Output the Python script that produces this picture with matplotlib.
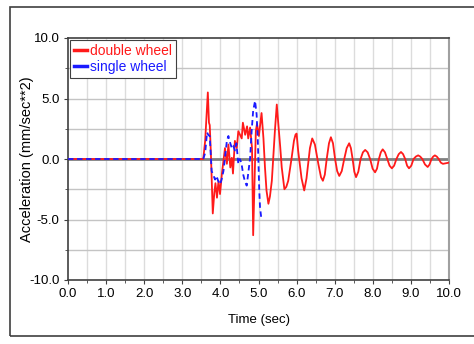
import numpy as np
import matplotlib.pyplot as plt
from matplotlib.patches import Rectangle

# double wheel (red) - time (sec) and acceleration (mm/sec**2)
t_double = [0.0, 3.55, 3.60, 3.67, 3.70, 3.72, 3.75, 3.78, 3.80, 3.84, 3.87, 3.91,
            3.95, 3.99, 4.04, 4.12, 4.17, 4.21, 4.26, 4.30, 4.33, 4.38, 4.43,
            4.47, 4.56, 4.59, 4.65, 4.70, 4.73, 4.78, 4.83, 4.86, 4.93, 4.96,
            5.01, 5.08, 5.13, 5.17, 5.21, 5.26, 5.30, 5.35, 5.43, 5.48, 5.52,
            5.57, 5.61, 5.68, 5.73, 5.78, 5.87, 5.93, 5.97, 6.00, 6.04, 6.13,
            6.20, 6.26, 6.35, 6.41, 6.48, 6.57, 6.64, 6.69, 6.74, 6.79, 6.85,
            6.90, 6.955, 7.01, 7.065, 7.12, 7.185, 7.25, 7.315, 7.38, 7.425,
            7.47, 7.515, 7.56, 7.62, 7.68, 7.74, 7.80, 7.865, 7.93, 7.995,
            8.06, 8.11, 8.16, 8.21, 8.26, 8.32, 8.38, 8.44, 8.50, 8.56, 8.62,
            8.68, 8.74, 8.795, 8.85, 8.90, 8.95, 9.01, 9.07, 9.13, 9.19, 9.245,
            9.30, 9.37, 9.44, 9.49, 9.54, 9.585, 9.63, 9.68, 9.73, 9.785, 9.84,
            9.92, 10.0]
a_double = [0.0, 0.0, 1.5, 5.5, 3.0, 2.8, 0.5, -2.5, -4.5, -2.8, -2.0, -3.2,
            -1.8, -2.9, -1.2, 0.9, -0.4, 1.2, -0.7, 0.1, -1.2, 1.5, 0.9,
            2.3, 1.7, 3.0, 2.0, 2.7, 1.7, 2.6, 0.9, -6.3, 2.3, 2.9,
            1.9, 3.8, 1.7, -0.7, -2.6, -3.7, -3.1, -1.8, 2.3, 4.5, 2.9,
            1.0, -0.7, -2.5, -2.3, -1.8, 0.1, 1.5, 2.0, 2.1, 0.7, -1.6,
            -2.6, -1.6, 0.9, 1.7, 1.2, -0.4, -1.5, -1.8, -1.3, 0.0, 1.3,
            1.8, 1.3, 0.0, -1.0, -1.4, -1.0, 0.0, 0.9, 1.3, 0.9,
            0.0, -1.05, -1.5, -1.05, 0.0, 0.55, 0.75, 0.55, 0.0, -0.8,
            -1.1, -0.8, 0.0, 0.55, 0.8, 0.55, 0.0, -0.55, -0.77, -0.55, 0.0,
            0.4, 0.58, 0.4, 0.0, -0.55, -0.77, -0.55, 0.0, 0.2, 0.3, 0.2,
            0.0, -0.45, -0.66, -0.45, 0.0, 0.2, 0.3, 0.2, 0.0, -0.3, -0.4,
            -0.35, -0.3]

# single wheel (blue dashed)
t_single = [0.0, 3.55, 3.60, 3.65, 3.68, 3.72, 3.77, 3.81, 3.86, 3.90, 3.94,
            3.99, 4.03, 4.08, 4.12, 4.17, 4.21, 4.25, 4.30, 4.34, 4.38, 4.42,
            4.47, 4.51, 4.55, 4.60, 4.64, 4.69, 4.73, 4.78, 4.82, 4.86, 4.91,
            4.95, 4.98, 5.00, 5.02, 5.04, 5.07]
a_single = [0.0, 0.0, 0.5, 2.2, 2.0, 1.9, -1.0, -1.3, -1.7, -1.4, -1.8,
            -2.1, -1.7, -1.0, 0.1, 1.5, 1.9, 1.4, 0.9, 1.1, 0.7, 1.3,
            -0.4, 0.0, -0.3, -1.3, -1.8, -2.2, -1.2, 0.1, 2.3, 4.0, 4.8,
            3.7, 1.7, -0.4, -2.6, -4.0, -4.8]

xticks = np.arange(0, 10.5, 1.0)
yticks = [-10.0, -5.0, 0.0, 5.0, 10.0]

plt.rcParams['font.family'] = ['Liberation Sans', 'DejaVu Sans']

fig = plt.figure(figsize=(4.74, 3.44), dpi=100)
fig.patches.append(Rectangle((10/474, 8/344), 1.0, 329/344, transform=fig.transFigure,
                             fill=False, edgecolor='#404040', linewidth=1.2))
ax = fig.add_axes([68/474, 64/344, 381/474, 242/344])

# grid
for x in np.arange(0.5, 10.0, 0.5):
    ax.axvline(x, color='#dcdcdc', lw=1.0, zorder=0)
for y in [-7.5, -5.0, -2.5, 2.5, 5.0, 7.5]:
    ax.axhline(y, color='#c4c4c4', lw=1.0, zorder=0)
ax.axhline(0, color='#808080', lw=2.0, zorder=1)

ax.plot(t_double, a_double, color='#ff1a1a', lw=1.3, label='double wheel', zorder=3)
ax.plot(t_single, a_single, color='#1a1aff', lw=1.3, ls=(0, (3, 2)), label='single wheel', zorder=4)

ax.set_xlim(0, 10)
ax.set_ylim(-10, 10)
ax.set_xticks(xticks)
ax.set_xticklabels(['%.1f' % v for v in xticks])
ax.set_yticks(yticks)
ax.set_yticklabels(['%.1f' % v for v in yticks])
ax.set_xticks(np.arange(0.5, 10, 1.0), minor=True)
ax.set_yticks([-7.5, -2.5, 2.5, 7.5], minor=True)
ax.tick_params(labelsize=9.5, length=3, color='#404040', pad=3)
ax.tick_params(which='minor', length=2, color='#404040')
for s in ['left', 'bottom', 'top']:
    ax.spines[s].set_color('#404040')
    ax.spines[s].set_linewidth(1.2)
ax.spines['right'].set_color('#a0a0a0')
ax.spines['right'].set_linewidth(1.5)

ax.set_xlabel('Time (sec)', fontsize=9.5, labelpad=10)
ax.set_ylabel('Acceleration (mm/sec**2)', fontsize=10.5)
ax.yaxis.set_label_coords(-0.09, 0.5)

leg = ax.legend(loc='upper left', fontsize=10, handlelength=0.9, handletextpad=0.2,
                borderpad=0.3, labelspacing=0.1, fancybox=False, framealpha=1,
                edgecolor='#404040', borderaxespad=0.15)
leg.get_frame().set_linewidth(0.8)
for line in leg.get_lines():
    line.set_linestyle('-')
    line.set_linewidth(2.5)
for text, c in zip(leg.get_texts(), ['#ff1a1a', '#1a1aff']):
    text.set_color(c)

fig.savefig('out.png', dpi=100)
